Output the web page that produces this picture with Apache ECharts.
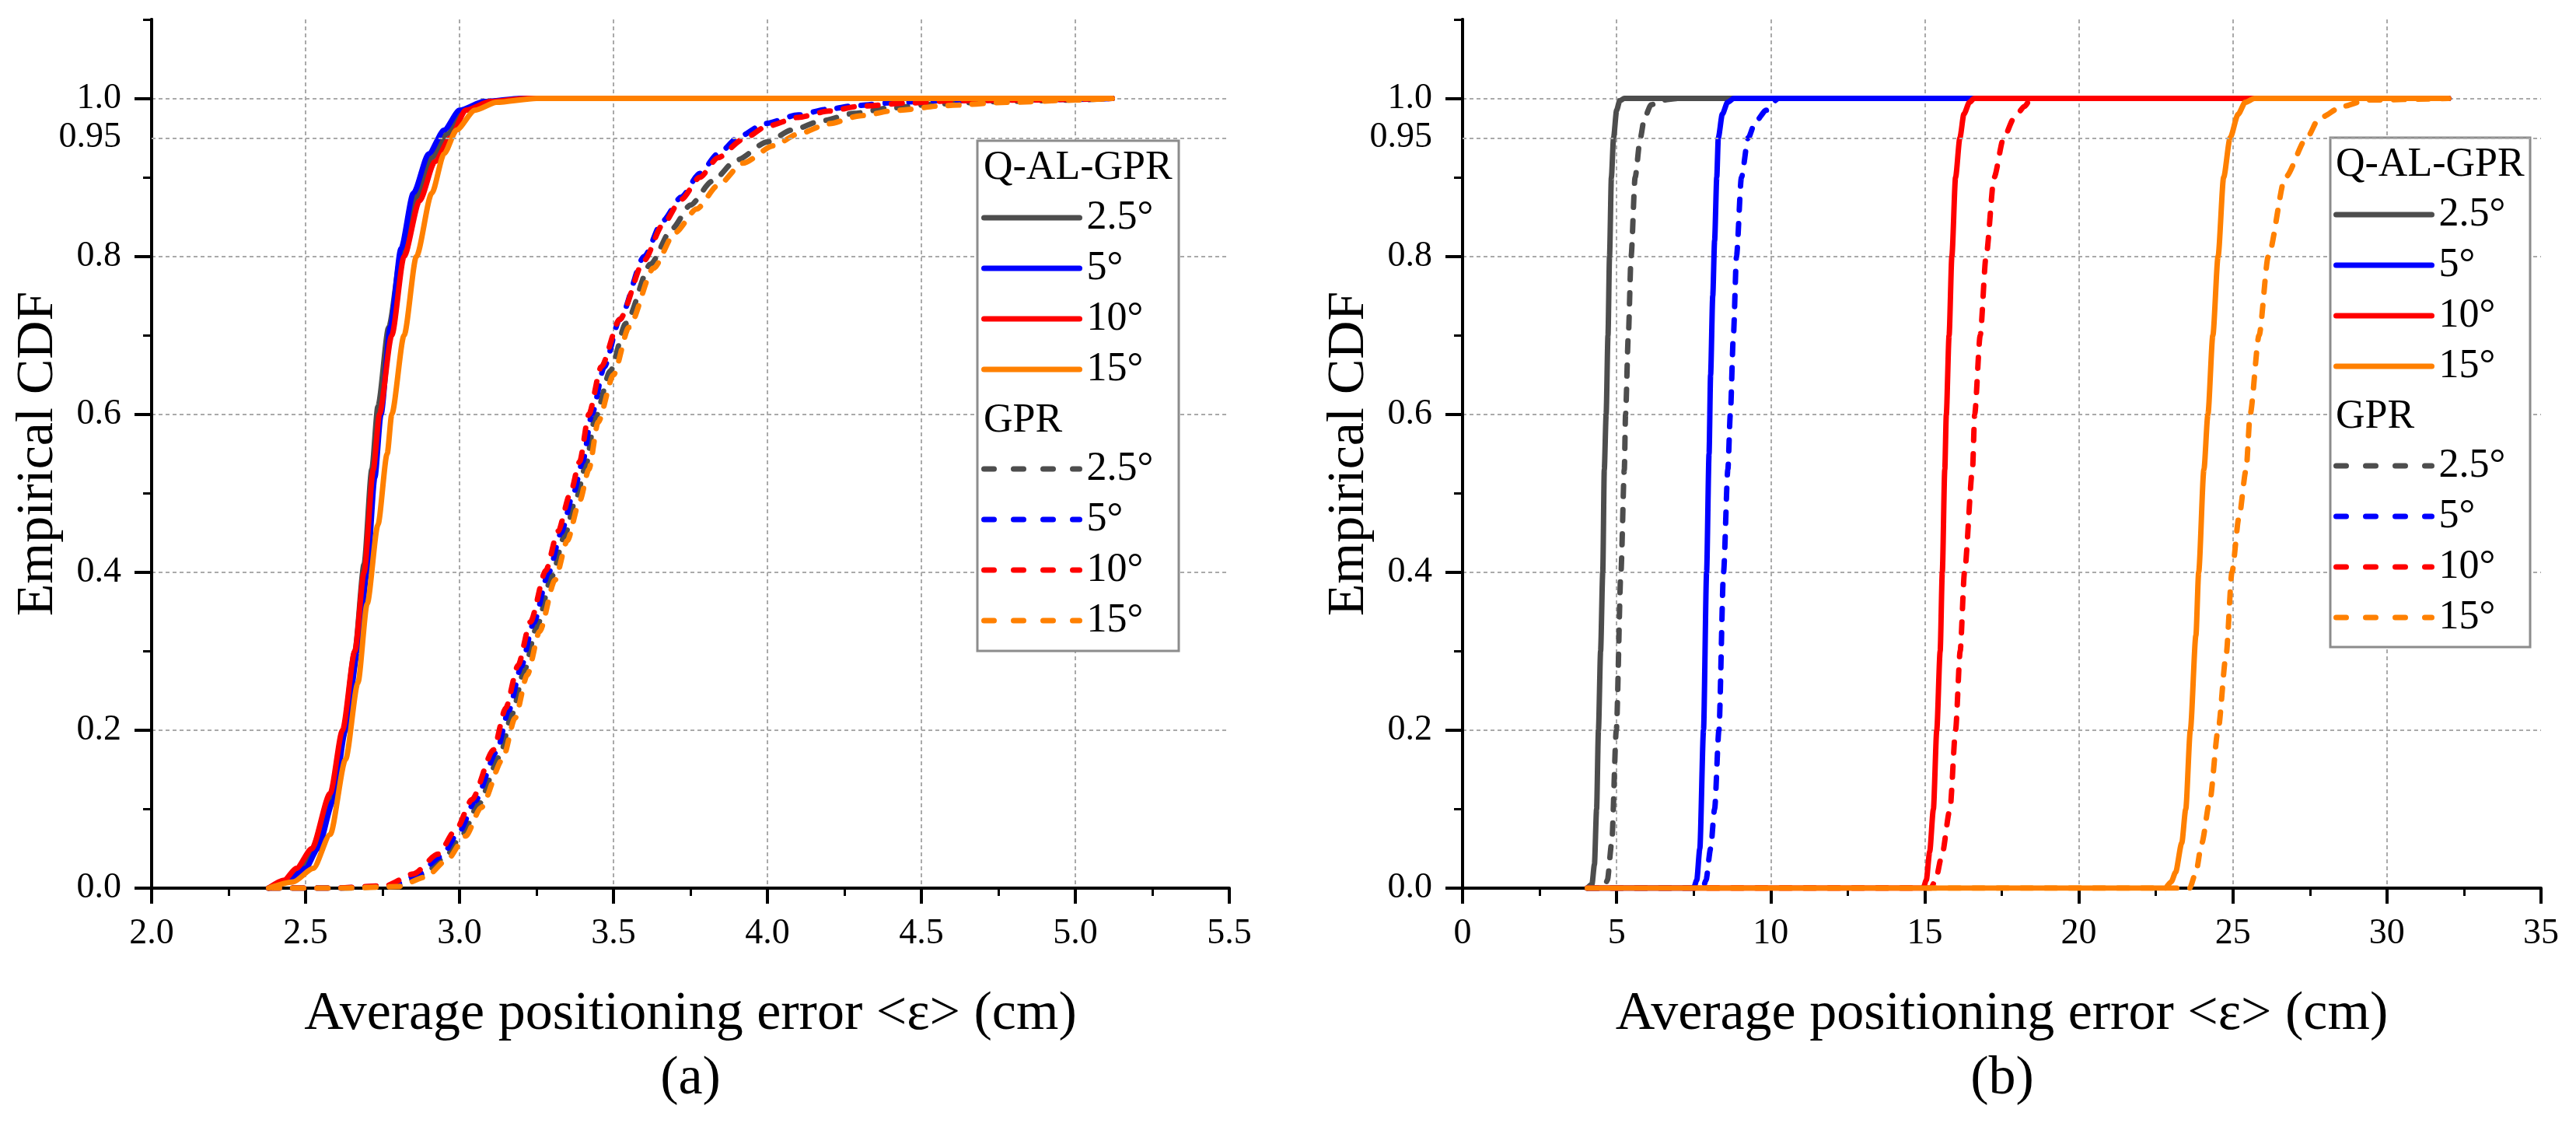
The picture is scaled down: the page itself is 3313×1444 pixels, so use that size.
<!DOCTYPE html>
<html>
<head>
<meta charset="utf-8">
<script src="https://cdn.jsdelivr.net/npm/echarts@6/dist/echarts.min.js"></script>
<style>
html, body { margin: 0; padding: 0; background: #fff; }
#main { width: 3313px; height: 1444px; }
</style>
</head>
<body>
<div id="main"></div>
<script>
var serif = 'Liberation Serif';
var degrees = ['2.5°', '5°', '10°', '15°'];
var colors = ['#4d4d4d', '#0000ff', '#ff0000', '#ff8000'];
var xTitle = 'Average positioning error <ε> (cm)';
var yTitle = 'Empirical CDF';

// y axis ticks / labels
var yMajor = [0, 0.2, 0.4, 0.6, 0.8, 1.0];
var yMinor = [0.1, 0.3, 0.5, 0.7, 0.9, 1.1];
var yLabels = [0, 0.2, 0.4, 0.6, 0.8, 0.95, 1.0];

// (a) Q-AL-GPR, solid
var aQ25 = [[2.38,0],[2.44,0.01],[2.49,0.025],[2.53,0.05],[2.58,0.11],[2.62,0.19],[2.66,0.3],[2.69,0.41],[2.715,0.53],[2.735,0.61],[2.77,0.71],[2.81,0.8],[2.86,0.875],[2.91,0.925],[2.96,0.955],[3.02,0.985],[3.1,0.996],[3.22,1],[5.12,1]];
var aQ5 = [[2.38,0],[2.44,0.008],[2.5,0.025],[2.54,0.05],[2.59,0.11],[2.63,0.2],[2.67,0.3],[2.7,0.4],[2.725,0.52],[2.745,0.6],[2.775,0.71],[2.81,0.81],[2.85,0.88],[2.9,0.93],[2.95,0.96],[3.0,0.985],[3.08,0.996],[3.2,1],[5.12,1]];
var aQ10 = [[2.38,0],[2.43,0.01],[2.47,0.025],[2.52,0.05],[2.58,0.12],[2.62,0.2],[2.66,0.3],[2.69,0.4],[2.72,0.53],[2.74,0.6],[2.78,0.7],[2.82,0.8],[2.87,0.87],[2.92,0.92],[2.97,0.95],[3.02,0.985],[3.1,0.996],[3.22,1],[5.12,1]];
var aQ15 = [[2.38,0],[2.46,0.008],[2.525,0.025],[2.58,0.068],[2.63,0.163],[2.67,0.26],[2.7,0.36],[2.735,0.46],[2.765,0.55],[2.78,0.6],[2.82,0.7],[2.86,0.8],[2.91,0.88],[2.95,0.93],[2.99,0.96],[3.05,0.985],[3.12,0.995],[3.25,1],[5.12,1]];

// (a) GPR, dashed
var aG25 = [[2.38,0],[2.62,0],[2.8,0.003],[2.88,0.016],[2.95,0.038],[3.01,0.068],[3.06,0.105],[3.13,0.166],[3.17,0.22],[3.21,0.275],[3.25,0.33],[3.3,0.395],[3.34,0.445],[3.38,0.495],[3.41,0.535],[3.44,0.595],[3.49,0.655],[3.54,0.715],[3.62,0.79],[3.69,0.835],[3.75,0.865],[3.82,0.895],[3.9,0.922],[4.0,0.945],[4.08,0.96],[4.18,0.972],[4.28,0.981],[4.4,0.988],[4.55,0.993],[4.75,0.996],[5.0,0.998],[5.12,1]];
var aG5 = [[2.38,0],[2.6,0],[2.78,0.003],[2.86,0.016],[2.94,0.04],[3.0,0.072],[3.05,0.11],[3.12,0.172],[3.16,0.225],[3.2,0.28],[3.24,0.335],[3.29,0.4],[3.33,0.45],[3.37,0.5],[3.4,0.54],[3.43,0.6],[3.47,0.66],[3.52,0.72],[3.6,0.8],[3.66,0.845],[3.72,0.875],[3.78,0.905],[3.84,0.93],[3.91,0.952],[3.99,0.968],[4.1,0.979],[4.19,0.986],[4.29,0.991],[4.42,0.995],[4.55,0.997],[4.8,0.998],[5.05,0.999],[5.12,1]];
var aG10 = [[2.38,0],[2.58,0],[2.76,0.003],[2.85,0.018],[2.93,0.043],[2.99,0.075],[3.04,0.112],[3.11,0.175],[3.15,0.228],[3.19,0.282],[3.23,0.337],[3.28,0.402],[3.32,0.452],[3.36,0.5],[3.39,0.54],[3.42,0.6],[3.46,0.66],[3.52,0.72],[3.6,0.795],[3.66,0.84],[3.72,0.872],[3.78,0.9],[3.84,0.925],[3.92,0.948],[4.0,0.965],[4.1,0.976],[4.2,0.984],[4.3,0.99],[4.45,0.994],[4.6,0.997],[4.85,0.998],[5.12,1]];
var aG15 = [[2.38,0],[2.62,0],[2.8,0.002],[2.89,0.014],[2.96,0.036],[3.02,0.066],[3.07,0.102],[3.14,0.163],[3.18,0.215],[3.22,0.27],[3.26,0.325],[3.31,0.39],[3.35,0.44],[3.39,0.49],[3.42,0.53],[3.45,0.59],[3.5,0.65],[3.55,0.71],[3.63,0.785],[3.7,0.83],[3.77,0.86],[3.84,0.89],[3.92,0.918],[4.02,0.94],[4.1,0.955],[4.2,0.968],[4.3,0.978],[4.42,0.985],[4.58,0.991],[4.78,0.995],[5.0,0.998],[5.12,1]];

// (b) Q-AL-GPR, solid
var bQ25 = [[4.05,0],[4.2,0.005],[4.28,0.03],[4.35,0.1],[4.41,0.2],[4.48,0.3],[4.55,0.4],[4.6,0.53],[4.66,0.6],[4.72,0.7],[4.77,0.8],[4.83,0.9],[4.9,0.95],[5.0,0.985],[5.1,0.997],[5.25,1],[32,1]];
var bQ5 = [[4.05,0],[7.5,0],[7.6,0.01],[7.7,0.05],[7.82,0.2],[7.92,0.4],[8.0,0.55],[8.05,0.65],[8.12,0.75],[8.18,0.82],[8.25,0.9],[8.3,0.95],[8.43,0.98],[8.6,0.995],[8.8,1],[32,1]];
var bQ10 = [[4.05,0],[14.95,0],[15.05,0.01],[15.16,0.046],[15.28,0.1],[15.39,0.2],[15.5,0.3],[15.57,0.4],[15.65,0.53],[15.7,0.6],[15.79,0.7],[15.88,0.8],[16.0,0.9],[16.14,0.95],[16.27,0.98],[16.45,0.995],[16.6,1],[32,1]];
var bQ15 = [[4.05,0],[22.8,0],[23.0,0.008],[23.14,0.02],[23.34,0.057],[23.47,0.1],[23.62,0.2],[23.8,0.32],[23.89,0.4],[24.06,0.53],[24.19,0.6],[24.35,0.7],[24.52,0.8],[24.7,0.9],[24.91,0.95],[25.17,0.98],[25.4,0.995],[25.7,1],[32,1]];

// (b) GPR, dashed
var bG25 = [[4.05,0],[4.6,0],[4.7,0.01],[4.84,0.057],[4.99,0.2],[5.14,0.4],[5.25,0.53],[5.29,0.6],[5.38,0.7],[5.47,0.8],[5.6,0.9],[5.77,0.95],[5.9,0.975],[6.12,0.992],[6.5,0.998],[7.0,1],[32,1]];
var bG5 = [[4.05,0],[7.8,0],[7.9,0.01],[8.05,0.05],[8.18,0.1],[8.32,0.2],[8.47,0.4],[8.61,0.53],[8.69,0.6],[8.79,0.7],[8.89,0.8],[9.05,0.9],[9.27,0.95],[9.5,0.97],[9.85,0.985],[10.25,1],[32,1]];
var bG10 = [[4.05,0],[15.2,0],[15.35,0.01],[15.55,0.04],[15.82,0.1],[16.0,0.2],[16.15,0.3],[16.29,0.4],[16.55,0.53],[16.62,0.6],[16.8,0.7],[16.99,0.8],[17.25,0.9],[17.56,0.95],[17.9,0.975],[18.24,0.99],[18.45,1],[32,1]];
var bG15 = [[4.05,0],[23.6,0],[23.8,0.02],[23.99,0.057],[24.25,0.11],[24.52,0.2],[24.78,0.295],[24.97,0.4],[25.2,0.47],[25.43,0.53],[25.56,0.6],[25.85,0.7],[26.15,0.8],[26.7,0.9],[27.4,0.95],[27.8,0.975],[28.57,0.99],[29.35,0.998],[32,1]];

var panels = [
    {key: 'a', q: [aQ25, aQ5, aQ10, aQ15], g: [aG25, aG5, aG10, aG15]},
    {key: 'b', q: [bQ25, bQ5, bQ10, bQ15], g: [bG25, bG5, bG10, bG15]}
];

var gridColor = '#aaaaaa';
var myChart = echarts.init(document.getElementById('main'));

function lineSeries(name, data, color, dashed, gi) {
    return {
        type: 'line',
        name: name,
        data: data,
        xAxisIndex: gi,
        yAxisIndex: gi * 2,
        symbol: 'none',
        smooth: 0.25,
        smoothMonotone: 'x',
        lineStyle: {color: color, width: 7, type: dashed ? [14, 17] : 'solid', cap: 'round', join: 'round'},
        itemStyle: {color: color},
        z: 2
    };
}

var series = [];
panels.forEach(function (p, gi) {
    p.g.forEach(function (d, i) {
        series.push(lineSeries(degrees[i] + '|' + p.key + 'g', d, colors[i], true, gi));
    });
    p.q.forEach(function (d, i) {
        series.push(lineSeries(degrees[i] + '|' + p.key + 'q', d, colors[i], false, gi));
    });
});
// 0.95 reference gridline
[0, 8].forEach(function (idx) {
    series[idx].markLine = {
        silent: true,
        symbol: ['none', 'none'],
        label: {show: false},
        lineStyle: {color: gridColor, width: 2, type: [5, 4]},
        data: [{yAxis: 0.95}]
    };
});

function xAxisCfg(gi, min, max, interval, digits) {
    return {
        type: 'value', gridIndex: gi, min: min, max: max, interval: interval,
        name: xTitle, nameLocation: 'middle', nameGap: 128, nameMoveOverlap: false,
        nameTextStyle: {fontFamily: serif, fontSize: 70, color: '#000'},
        axisLine: {show: true, onZero: false, lineStyle: {color: '#000', width: 4}},
        axisTick: {show: true, length: 20, lineStyle: {color: '#000', width: 4}},
        minorTick: {show: true, splitNumber: 2, length: 10, lineStyle: {color: '#000', width: 3}},
        axisLabel: {margin: 36, fontFamily: serif, fontSize: 46, color: '#000',
            formatter: function (v) { return v.toFixed(digits); }},
        splitLine: {show: true, showMinLine: false, showMaxLine: false,
            lineStyle: {color: gridColor, width: 2, type: [5, 4]}}
    };
}

function yAxisMain(gi) {
    return {
        type: 'value', gridIndex: gi, min: 0, max: 1.1, position: 'left',
        name: yTitle, nameLocation: 'middle', nameGap: 112, nameMoveOverlap: false,
        nameTextStyle: {fontFamily: serif, fontSize: 68, color: '#000'},
        axisLine: {show: true, lineStyle: {color: '#000', width: 4}},
        axisTick: {show: true, length: 22, customValues: yMajor, lineStyle: {color: '#000', width: 4}},
        axisLabel: {margin: 39, fontFamily: serif, fontSize: 46, color: '#000', customValues: yLabels,
            formatter: function (v) { return v === 0.95 ? '0.95' : v.toFixed(1); }},
        splitLine: {show: true, showMinLine: false, showMaxLine: true,
            lineStyle: {color: gridColor, width: 2, type: [5, 4]}}
    };
}

function yAxisMinor(gi) {
    return {
        type: 'value', gridIndex: gi, min: 0, max: 1.1, position: 'left', offset: 0,
        axisLine: {show: true, lineStyle: {color: '#000', width: 4}},
        axisTick: {show: true, length: 11, customValues: yMinor, lineStyle: {color: '#000', width: 3}},
        axisLabel: {show: false},
        splitLine: {show: false}
    };
}

function legendCfg(names, left, top, dashed) {
    return {
        orient: 'vertical', left: left, top: top, padding: 0,
        itemWidth: 123, itemHeight: 52, itemGap: 13,
        selectedMode: false,
        data: names,
        formatter: function (n) { return n.split('|')[0]; },
        textStyle: {fontFamily: serif, fontSize: 52, lineHeight: 52, color: '#000', padding: [0, 0, 0, 4]},
        lineStyle: {width: 7, type: dashed ? [13, 25] : 'solid', cap: 'round'},
        itemStyle: {opacity: 0},
        z: 5
    };
}

function names(key) {
    return degrees.map(function (d) { return d + '|' + key; });
}

function headerText(text, x, y) {
    return {type: 'text', x: x, y: y, z: 6,
        style: {text: text, font: '52px "Liberation Serif"', fill: '#000', align: 'left', verticalAlign: 'middle'}};
}

option = {
    backgroundColor: '#fff',
    animation: false,
    textStyle: {fontFamily: serif},
    grid: [
        {left: 195, top: 25, width: 1386, height: 1117, outerBoundsMode: 'none'},
        {left: 1881, top: 25, width: 1387, height: 1117, outerBoundsMode: 'none'}
    ],
    xAxis: [xAxisCfg(0, 2, 5.5, 0.5, 1), xAxisCfg(1, 0, 35, 5, 0)],
    yAxis: [yAxisMain(0), yAxisMinor(0), yAxisMain(1), yAxisMinor(1)],
    legend: [
        legendCfg(names('aq'), 1262, 254, false),
        legendCfg(names('ag'), 1262, 577, true),
        legendCfg(names('bq'), 3001, 250, false),
        legendCfg(names('bg'), 3001, 573, true)
    ],
    graphic: [
        {type: 'rect', z: 3, shape: {x: 1257, y: 181, width: 259, height: 656},
            style: {fill: '#fff', stroke: '#8c8c8c', lineWidth: 3}},
        {type: 'rect', z: 3, shape: {x: 2997, y: 177, width: 257, height: 655},
            style: {fill: '#fff', stroke: '#8c8c8c', lineWidth: 3}},
        headerText('Q-AL-GPR', 1265, 216),
        headerText('GPR', 1265, 541),
        headerText('Q-AL-GPR', 3004, 212),
        headerText('GPR', 3004, 536),
        {type: 'text', x: 888, y: 1388, z: 6,
            style: {text: '(a)', font: '70px "Liberation Serif"', fill: '#000', align: 'center', verticalAlign: 'middle'}},
        {type: 'text', x: 2575, y: 1388, z: 6,
            style: {text: '(b)', font: '70px "Liberation Serif"', fill: '#000', align: 'center', verticalAlign: 'middle'}}
    ],
    series: series
};
myChart.setOption(option);
</script>
</body>
</html>
